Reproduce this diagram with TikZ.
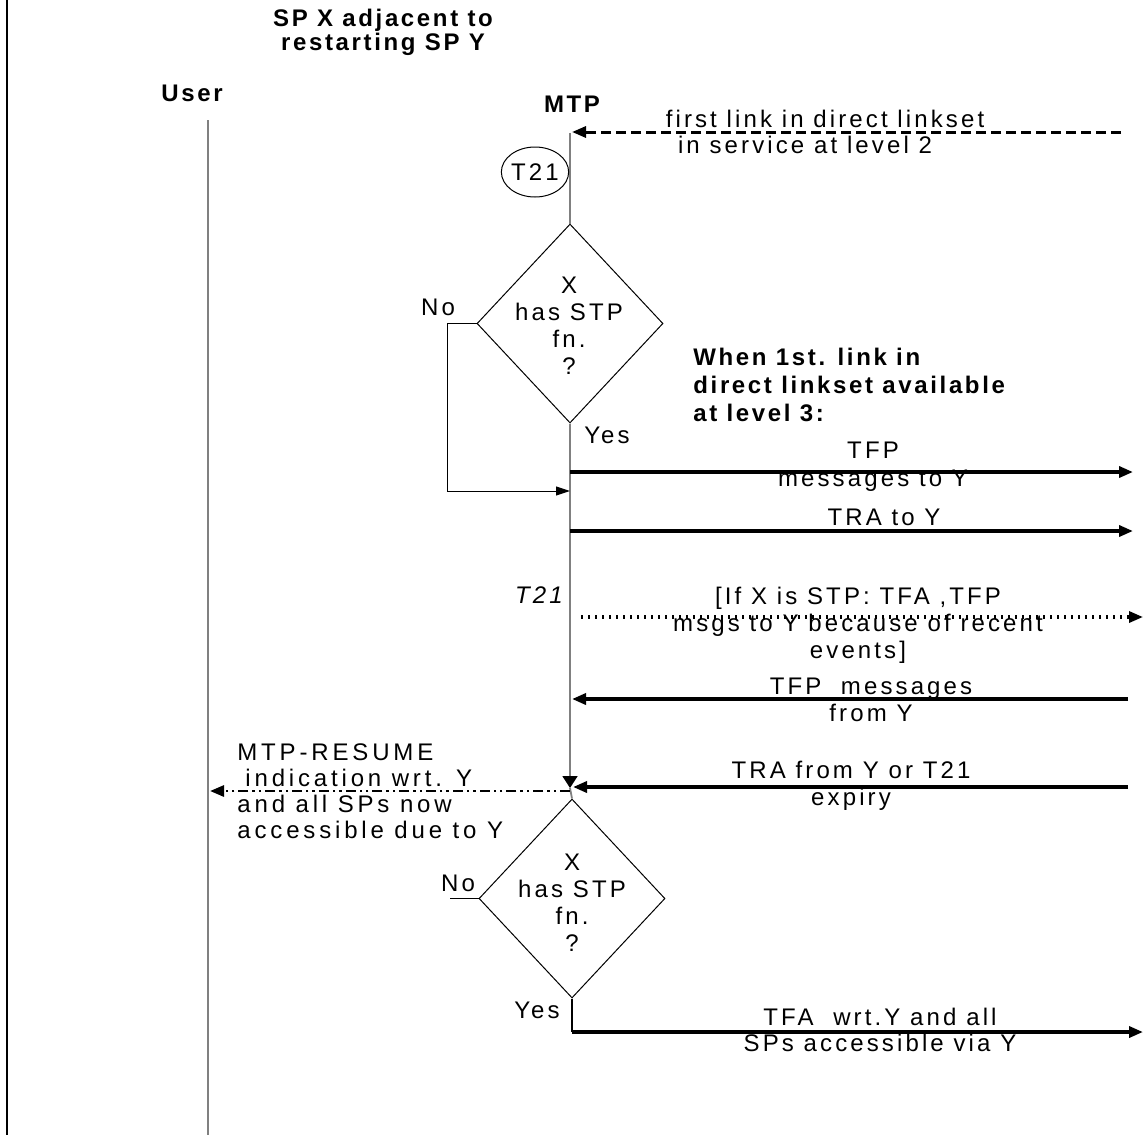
\documentclass[tikz,border=0pt]{standalone}
\usepackage{fontspec}
\setmainfont{Liberation Sans}
\newfontfamily\lblfont[LetterSpace=13]{Liberation Sans}
\newfontfamily\widefont[LetterSpace=16]{Liberation Sans}
\newfontfamily\boldfont[LetterSpace=11]{Liberation Sans}
\usetikzlibrary{arrows.meta,shapes.geometric}
\tikzset{
  lbl/.style={font=\lblfont\fontsize{12pt}{13.5pt}\selectfont, inner sep=0pt},
  blbl/.style={font=\boldfont\bfseries\fontsize{12pt}{14pt}\selectfont, inner sep=0pt},
  life/.style={draw=gray, line width=0.9pt},
  border/.style={line width=1.3pt, draw=black},
  dia/.style={diamond, draw, line width=0.5pt, inner sep=0pt, minimum width=93pt, minimum height=99.5pt},
  timer/.style={ellipse, draw, line width=0.5pt, inner sep=0pt, minimum width=33pt, minimum height=25pt},
  tip/.style={-{Triangle[length=7pt,width=5.5pt]}},
  msg/.style={tip, line width=1.7pt},
  dmsg/.style={tip, line width=1.5pt, dash pattern=on 5pt off 2.5pt},
  dotmsg/.style={tip, line width=1.6pt, dash pattern=on 1.2pt off 2.3pt},
  ddmsg/.style={tip, line width=1.4pt, dash pattern=on 5pt off 2pt on 1.2pt off 2pt on 1.2pt off 2pt},
  thinarr/.style={-{Triangle[length=7pt,width=4.5pt]}, line width=0.5pt},
  downtip/.style={-{Triangle[length=6pt,width=7.5pt,color=black]}},
}
\begin{document}
\begin{tikzpicture}[x=0.5pt,y=-0.5pt]
\useasboundingbox (0,0) rectangle (1144,1135);

% frame line and lifelines
\coordinate (b1) at (7,0);
\coordinate (b2) at (7,1135);
\draw[border] (b1) -- (b2);

\node[blbl, align=center, font=\boldfont\bfseries\fontsize{12pt}{12pt}\selectfont] (title) at (383,32) {SP X adjacent to\\restarting SP Y};
\node[blbl] (user) at (192,93) {User};
\node[blbl] (mtp) at (572,104) {MTP};

\coordinate (utop) at (208,120);
\coordinate (ubot) at (208,1135);
\draw[life] (utop) -- (ubot);

\coordinate (mtop) at (570,133);
\node[dia] (d1) at (570,323.5) {};
\node[dia] (d2) at (572,898.5) {};
\coordinate (mjoin) at (570,788);
\coordinate (yes2) at (572,1032);

\draw[life] (mtop) -- (d1.north);
\draw[life, downtip] (d1.south) -- (mjoin);
\draw[life] (mjoin) -- (d2.north);
\draw[draw=black, line width=0.6pt] (d2.south) -- (yes2);

% timer
\node[timer, lbl] (t21) at (535,172) {T21};

% incoming level 2 indication
\coordinate (lnkR) at (1121,132);
\coordinate (lnkL) at (572,132);
\draw[dmsg] (lnkR) -- (lnkL);
\node[lbl] (lnk1) at (825,119) {first link in direct linkset};
\node[lbl] (lnk2) at (805,145) {in service at level 2};

% decision 1
\node[lbl, align=center] (d1t) at (569,326) {X\\has STP\\fn.\\?};
\node[lbl] (no1) at (438,307) {No};
\node[lbl] (yes1) at (607,435) {Yes};
\coordinate (no1a) at (447,491);
\coordinate (no1in) at (570,491);
\draw[thinarr] (d1.west) -| (no1a) -- (no1in);

\node[blbl, align=left, anchor=west] (when) at (693,385)
  {When 1st. link in\\direct linkset available\\at level 3:};

% TFP to Y
\coordinate (tfpL) at (570,472);
\coordinate (tfpR) at (1133,472);
\draw[msg] (tfpL) -- (tfpR);
\node[lbl, align=center, font=\lblfont\fontsize{12pt}{14pt}\selectfont] (tfpt) at (873,467) {TFP\\messages to Y};

% TRA to Y
\coordinate (traL) at (570,531);
\coordinate (traR) at (1133,531);
\draw[msg] (traL) -- (traR);
\node[lbl] (trat) at (884,517) {TRA to Y};

% T21 running
\node[lbl, font=\lblfont\itshape\fontsize{12pt}{13.5pt}\selectfont] (t21b) at (539,595) {T21};

% dotted: if STP
\coordinate (dotL) at (581,617);
\coordinate (dotR) at (1143,617);
\draw[dotmsg] (dotL) -- (dotR);
\node[lbl, align=center] (dott) at (858,625) {[If X is STP: TFA ,TFP\\msgs to Y because of recent\\events]};

% TFP from Y
\coordinate (tfpfR) at (1128,699);
\coordinate (tfpfL) at (572,699);
\draw[msg] (tfpfR) -- (tfpfL);
\node[lbl, align=center] (tfpft) at (871,699.5) {TFP~~messages\\from Y};

% TRA from Y
\coordinate (trafR) at (1128,787);
\coordinate (trafL) at (573,787);
\draw[msg] (trafR) -- (trafL);
\node[lbl, align=center] (traft) at (851,786) {TRA from Y or T21\\expiry};

% MTP-RESUME
\coordinate (resR) at (570,791);
\coordinate (resL) at (210,791);
\draw[ddmsg] (resR) -- (resL);
\node[lbl, align=left, anchor=west, font=\widefont\fontsize{12pt}{13pt}\selectfont] (rest) at (237,791)
  {MTP-RESUME\\\hspace*{4pt}indication wrt. Y\\and all SPs now\\accessible due to Y};

% decision 2
\node[lbl, align=center] (d2t) at (572,903) {X\\has STP\\fn.\\?};
\node[lbl] (no2) at (458,883) {No};
\coordinate (no2end) at (450,898.5);
\draw[line width=0.5pt] (d2.west) -- (no2end);
\node[lbl] (yes2t) at (537,1010) {Yes};

% TFA
\coordinate (tfaR) at (1143,1032);
\draw[msg] (yes2) -- (tfaR);
\node[lbl, align=center, font=\lblfont\fontsize{12pt}{13pt}\selectfont] (tfat) at (880,1030) {TFA~~wrt.Y and all\\SPs accessible via Y};

\end{tikzpicture}
\end{document}
